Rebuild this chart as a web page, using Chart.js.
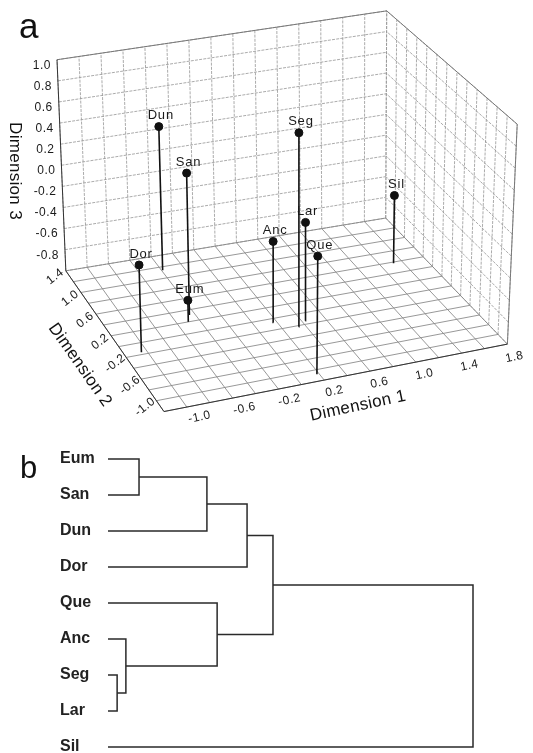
<!DOCTYPE html>
<html>
<head>
<meta charset="utf-8">
<script src="https://cdn.jsdelivr.net/npm/chart.js@4.4.1/dist/chart.umd.min.js"></script>
<style>
  html, body { margin: 0; padding: 0; background: #fff; }
  #wrapA { position: absolute; left: 0; top: 0; width: 533px; height: 440px; }
  #wrapB { position: absolute; left: 0; top: 440px; width: 533px; height: 313px; }
</style>
</head>
<body>
<div id="wrapA"><canvas id="cubeChart"></canvas></div>
<div id="wrapB"><canvas id="treeChart"></canvas></div>
<script>
// panel a: site scores on the three dimensions
const sites = ['Dun', 'San', 'Eum', 'Dor', 'Anc', 'Seg', 'Lar', 'Que', 'Sil'];
const dim1 = [-0.39, -0.45, -0.50, -1.05, 0.17, 0.34, 0.43, 0.18, 1.52];
const dim2 = [1.14, 0.31, 0.20, -0.16, -0.07, -0.22, -0.14, -1.08, 0.58];
const dim3 = [0.36, 0.32, -0.80, -0.20, -0.25, 0.79, -0.09, 0.07, -0.36];

const dim1Ticks = [-1.0, -0.6, -0.2, 0.2, 0.6, 1.0, 1.4, 1.8];
const dim2Ticks = [-1.0, -0.6, -0.2, 0.2, 0.6, 1.0, 1.4];
const dim3Ticks = [-0.8, -0.6, -0.4, -0.2, 0.0, 0.2, 0.4, 0.6, 0.8, 1.0];

// panel b: dendrogram (leaf order top to bottom, merges in order)
const leaves = ['Eum', 'San', 'Dun', 'Dor', 'Que', 'Anc', 'Seg', 'Lar', 'Sil'];
const mergeA = [6, 5, 0, 11, 4, 12, 14, 15];
const mergeB = [7, 9, 1, 2, 10, 3, 13, 8];
const mergeHeight = [0.025, 0.049, 0.085, 0.271, 0.299, 0.381, 0.452, 1.0];

// box extent and its corners on screen (dim1 end, dim2 end, dim3 end)
const U = [-1.2, 1.8], V = [-1.2, 1.4], W = [-1.0, 1.0];
const box = {
  '000': [162, 416], '100': [512, 347], '010': [62, 272], '110': [388, 218],
  '001': [157, 188], '101': [522, 122], '011': [53, 56], '111': [389, 6]
};

function project(u, v, w) {
  const s = (u - U[0]) / (U[1] - U[0]);
  const t = (v - V[0]) / (V[1] - V[0]);
  const r = (w - W[0]) / (W[1] - W[0]);
  let x = 0, y = 0;
  for (const a of [0, 1]) for (const b of [0, 1]) for (const c of [0, 1]) {
    const k = (a ? s : 1 - s) * (b ? t : 1 - t) * (c ? r : 1 - r);
    const p = box['' + a + b + c];
    x += k * p[0];
    y += k * p[1];
  }
  return { x, y };
}

function steps(lo, hi) {
  const out = [];
  for (let i = 0; lo + i * 0.2 <= hi + 1e-9; i++) out.push(+(lo + i * 0.2).toFixed(2));
  return out;
}

function seg(points, color, width, dash, order) {
  return {
    data: points, showLine: true, borderColor: color, borderWidth: width,
    borderDash: dash || [], pointRadius: 0, fill: false, order: order
  };
}

const cubeSets = [];
const wallCol = '#969696', floorCol = '#858585';
// floor
steps(U[0], U[1]).forEach(u => cubeSets.push(seg([project(u, V[0], W[0]), project(u, V[1], W[0])], floorCol, 0.85, [], 4)));
steps(V[0], V[1]).forEach(v => cubeSets.push(seg([project(U[0], v, W[0]), project(U[1], v, W[0])], floorCol, 0.85, [], 4)));
// back wall
steps(U[0], U[1]).forEach(u => cubeSets.push(seg([project(u, V[1], W[0]), project(u, V[1], W[1])], wallCol, 0.8, [3, 1.2], 4)));
steps(W[0], W[1]).forEach(w => cubeSets.push(seg([project(U[0], V[1], w), project(U[1], V[1], w)], wallCol, 0.8, [3, 1.2], 4)));
// right wall
steps(V[0], V[1]).forEach(v => cubeSets.push(seg([project(U[1], v, W[0]), project(U[1], v, W[1])], wallCol, 0.8, [3, 1.2], 4)));
steps(W[0], W[1]).forEach(w => cubeSets.push(seg([project(U[1], V[0], w), project(U[1], V[1], w)], wallCol, 0.8, [3, 1.2], 4)));
// outline
cubeSets.push(seg([project(U[0], V[1], W[1]), project(U[0], V[1], W[0]), project(U[0], V[0], W[0]), project(U[1], V[0], W[0])], '#333', 1, [], 3));
cubeSets.push(seg([project(U[0], V[1], W[1]), project(U[1], V[1], W[1]), project(U[1], V[0], W[1]), project(U[1], V[0], W[0])], '#707070', 0.9, [], 3));

// stems
sites.forEach((s, i) => {
  cubeSets.push(seg([project(dim1[i], dim2[i], W[0]), project(dim1[i], dim2[i], dim3[i])], '#111', 1.6, [], 1));
});
// points
cubeSets.push({
  data: sites.map((s, i) => project(dim1[i], dim2[i], dim3[i])),
  pointRadius: 4, pointBackgroundColor: '#111', pointBorderColor: '#111', order: 0
});

const FONT = 'Arial, "Liberation Sans", sans-serif';

function rotText(ctx, text, x, y, angle, font) {
  ctx.save();
  ctx.translate(x, y);
  ctx.rotate(angle * Math.PI / 180);
  ctx.font = font;
  ctx.textAlign = 'center';
  ctx.textBaseline = 'middle';
  ctx.fillText(text, 0, 0);
  ctx.restore();
}

const cubeText = {
  id: 'cubeText',
  afterDatasetsDraw(chart) {
    const ctx = chart.ctx, xs = chart.scales.x, ys = chart.scales.y;
    const px = p => ({ x: xs.getPixelForValue(p.x), y: ys.getPixelForValue(p.y) });
    ctx.save();
    ctx.fillStyle = '#1a1a1a';
    ctx.letterSpacing = '0.8px';
    // point labels
    sites.forEach((s, i) => {
      const p = px(project(dim1[i], dim2[i], dim3[i]));
      ctx.font = '13px ' + FONT;
      ctx.textAlign = 'center';
      ctx.textBaseline = 'middle';
      ctx.fillText(s, p.x + 2, p.y - 11);
    });
    ctx.letterSpacing = '0.5px';
    // dimension 3 ticks
    dim3Ticks.forEach(w => {
      const p = px(project(U[0], V[1], w));
      ctx.font = '12px ' + FONT;
      ctx.textAlign = 'right';
      ctx.textBaseline = 'middle';
      ctx.fillText(w.toFixed(1), p.x - 6, p.y + 5.5);
    });
    // dimension 2 ticks
    dim2Ticks.forEach(v => {
      const p = px(project(U[0] - 0.1, v, W[0]));
      rotText(ctx, v.toFixed(1), p.x, p.y + 4, -38, '12px ' + FONT);
    });
    // dimension 1 ticks
    dim1Ticks.forEach(u => {
      const s = (u - U[0]) / (U[1] - U[0]);
      const p = px(project(u, V[0], W[0]));
      rotText(ctx, u.toFixed(1), p.x + 13 - 6 * s, p.y + 10 + 3 * s, -12, '12px ' + FONT);
    });
    ctx.letterSpacing = '0.3px';
    ctx.fillStyle = '#111';
    rotText(ctx, 'Dimension 3', 15, 171, 90, '17px ' + FONT);
    rotText(ctx, 'Dimension 2', 80, 365, 55, '17px ' + FONT);
    rotText(ctx, 'Dimension 1', 358, 406, -12, '17px ' + FONT);
    ctx.letterSpacing = '0px';
    ctx.font = '35px ' + FONT;
    ctx.textAlign = 'left';
    ctx.textBaseline = 'alphabetic';
    ctx.fillText('a', 19, 38);
    ctx.restore();
  }
};

new Chart(document.getElementById('cubeChart'), {
  type: 'scatter',
  data: { datasets: cubeSets },
  options: {
    responsive: true,
    maintainAspectRatio: false,
    animation: false,
    layout: { padding: 0 },
    plugins: { legend: { display: false }, tooltip: { enabled: false } },
    scales: {
      x: { type: 'linear', min: 0, max: 533, display: false },
      y: { type: 'linear', min: 0, max: 440, reverse: true, display: false }
    }
  },
  plugins: [cubeText]
});

// dendrogram links built from the merge list
const treeSets = [];
const nodeY = leaves.map((l, i) => i);
const nodeH = leaves.map(() => 0);
mergeA.forEach((a, k) => {
  const b = mergeB[k], h = mergeHeight[k];
  treeSets.push(seg([
    { x: nodeH[a], y: nodeY[a] }, { x: h, y: nodeY[a] },
    { x: h, y: nodeY[b] }, { x: nodeH[b], y: nodeY[b] }
  ], '#2a2a2a', 1.5, [], 0));
  nodeY.push((nodeY[a] + nodeY[b]) / 2);
  nodeH.push(h);
});

const treeText = {
  id: 'treeText',
  afterDatasetsDraw(chart) {
    const ctx = chart.ctx, ys = chart.scales.y;
    ctx.save();
    ctx.fillStyle = '#222';
    ctx.font = 'bold 16px ' + FONT;
    ctx.textAlign = 'left';
    ctx.textBaseline = 'middle';
    leaves.forEach((l, i) => ctx.fillText(l, 60, ys.getPixelForValue(i)));
    ctx.fillStyle = '#111';
    ctx.font = '31px ' + FONT;
    ctx.textBaseline = 'alphabetic';
    ctx.fillText('b', 20, 38);
    ctx.restore();
  }
};

new Chart(document.getElementById('treeChart'), {
  type: 'scatter',
  data: { datasets: treeSets },
  options: {
    responsive: true,
    maintainAspectRatio: false,
    animation: false,
    layout: { padding: 0 },
    plugins: { legend: { display: false }, tooltip: { enabled: false } },
    scales: {
      x: { type: 'linear', min: -108 / 365, max: 425 / 365, display: false },
      y: { type: 'linear', min: -19 / 36, max: 294 / 36, reverse: true, display: false }
    }
  },
  plugins: [treeText]
});
</script>
</body>
</html>
